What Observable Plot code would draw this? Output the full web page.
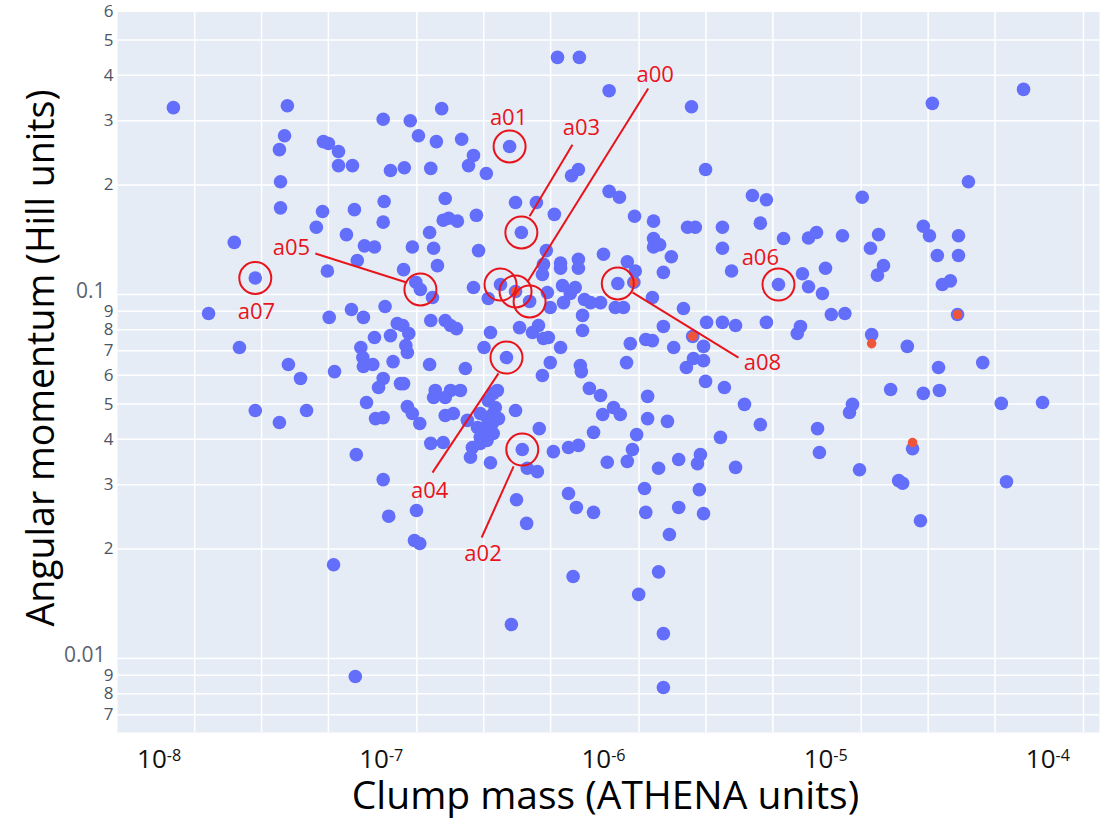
<!DOCTYPE html>
<html>
<head>
<meta charset="utf-8">
<script src="https://cdn.jsdelivr.net/npm/d3@7"></script>
<script src="https://cdn.jsdelivr.net/npm/@observablehq/plot@0.6"></script>
<style>
  html, body { margin: 0; padding: 0; background: #fff; }
</style>
</head>
<body>
<div id="chart"></div>
<script>
// Clumps: mass (ATHENA units) and angular momentum (Hill units)
const clumpMass = [
  1.16e-8,3.78e-8,3.67e-8,3.48e-8,3.52e-8,3.52e-8,2.18e-8,5.44e-8,5.10e-8,5.49e-8,
  5.78e-8,6.42e-8,6.42e-8,7.42e-8,1.02e-7,1.10e-7,1.27e-7,7.57e-8,1.03e-7,1.02e-7,
  6.97e-8,8.40e-8,9.32e-8,7.80e-8,5.72e-8,2.71e-8,1.67e-8,5.83e-8,7.34e-8,8.31e-8,
  1.04e-7,1.18e-7,1.10e-7,9.32e-8,2.30e-8,3.82e-8,4.33e-8,6.16e-8,8.09e-8,8.26e-8,
  8.31e-8,9.16e-8,1.13e-7,1.02e-7,9.72e-8,1.22e-7,2.71e-8,3.48e-8,4.61e-8,8.58e-8,
  9.42e-8,7.72e-8,1.02e-7,1.08e-7,6.10e-8,7.64e-8,6.21e-7,7.79e-7,1.06e-6,2.49e-6,
  1.87e-7,1.35e-7,1.47e-7,1.77e-7,2.30e-7,2.60e-7,2.47e-7,2.97e-7,3.78e-7,1.67e-7,
  7.18e-7,7.71e-7,2.88e-6,1.94e-7,4.02e-7,4.99e-7,2.68e-7,6.01e-7,1.06e-6,1.18e-6,
  4.68e-6,5.41e-6,1.90e-7,2.01e-7,2.20e-7,1.65e-7,4.27e-7,1.38e-6,1.68e-6,2.39e-6,
  2.59e-6,3.43e-6,5.08e-6,1.38e-7,1.72e-7,2.74e-7,5.53e-7,5.37e-7,6.41e-7,6.41e-7,
  7.71e-7,7.71e-7,1.00e-6,1.28e-6,1.39e-6,1.68e-6,1.68e-6,1.79e-6,2.02e-6,1.86e-6,
  3.43e-6,3.77e-6,1.26e-7,1.79e-7,5.31e-7,7.77e-5,3.02e-5,4.39e-5,1.46e-5,6.46e-6,
  8.37e-6,9.09e-6,1.19e-5,1.73e-5,2.75e-5,2.93e-5,3.96e-5,1.59e-5,1.82e-5,1.71e-5,
  3.18e-5,3.96e-5,7.86e-6,9.98e-6,3.35e-5,3.64e-5,6.13e-6,1.43e-7,1.50e-7,1.70e-7,
  2.60e-7,3.03e-7,3.44e-7,4.02e-7,4.65e-7,5.59e-7,5.76e-7,6.54e-7,7.46e-7,7.09e-7,
  6.61e-7,8.21e-7,8.74e-7,9.70e-7,8.05e-7,8.05e-7,1.16e-6,1.37e-6,1.13e-6,1.23e-6,
  1.66e-6,2.29e-6,1.67e-7,1.94e-7,2.05e-7,2.18e-7,3.10e-7,4.19e-7,4.79e-7,5.10e-7,
  5.37e-7,5.65e-7,6.41e-7,2.90e-7,3.66e-7,5.76e-7,5.31e-7,7.87e-7,7.95e-7,1.32e-6,
  1.55e-6,1.66e-6,1.86e-6,2.07e-6,2.52e-6,2.82e-6,2.91e-6,3.43e-6,3.93e-6,5.41e-6,
  1.27e-6,2.36e-6,2.54e-6,2.82e-6,2.88e-6,3.50e-6,4.31e-6,5.08e-6,1.25e-7,1.33e-7,
  1.29e-7,1.31e-7,1.65e-7,2.39e-7,1.26e-7,1.75e-7,1.72e-7,2.05e-7,2.27e-7,1.94e-7,
  3.19e-7,3.33e-7,3.03e-7,4.02e-7,1.31e-7,1.38e-7,1.49e-7,1.02e-7,1.94e-7,2.11e-7,
  2.44e-7,2.79e-7,2.99e-7,3.19e-7,3.26e-7,3.37e-7,2.71e-7,2.90e-7,3.16e-7,2.79e-7,
  2.99e-7,3.19e-7,2.57e-7,2.52e-7,2.79e-7,3.10e-7,1.67e-7,1.90e-7,4.31e-7,4.54e-7,
  5.04e-7,5.14e-7,5.95e-7,6.96e-7,7.71e-7,9.02e-7,8.64e-7,9.70e-7,9.92e-7,1.11e-6,
  1.19e-6,1.41e-6,1.35e-6,1.28e-6,1.04e-6,1.58e-6,1.58e-6,1.94e-6,1.77e-6,2.18e-6,
  2.73e-6,2.65e-6,3.36e-6,3.93e-6,1.44e-7,4.06e-7,4.51e-7,6.96e-7,7.55e-7,9.02e-7,
  1.53e-6,1.55e-6,1.98e-6,2.18e-6,2.70e-6,2.82e-6,1.41e-7,1.49e-7,3.85e-7,7.30e-7,
  1.77e-6,1.44e-6,1.86e-6,1.86e-6,8.37e-6,9.67e-6,7.70e-6,7.45e-6,1.06e-5,1.22e-5,
  3.92e-5,1.61e-5,2.33e-5,3.22e-5,5.09e-5,1.96e-5,2.75e-5,3.25e-5,1.32e-5,1.28e-5,
  6.17e-5,9.46e-5,9.19e-6,2.46e-5,9.37e-6,1.42e-5,2.13e-5,2.22e-5,6.51e-5,2.67e-5
];
const clumpMomentum = [
  0.326,0.330,0.273,0.250,0.204,0.173,0.139,0.169,0.153,0.263,
  0.260,0.247,0.226,0.226,0.303,0.219,0.223,0.171,0.180,0.158,
  0.146,0.136,0.135,0.124,0.116,0.111,0.0887,0.0865,0.0909,0.0865,
  0.0927,0.0832,0.0771,0.0762,0.0715,0.0642,0.0588,0.0614,0.0715,0.0671,
  0.0634,0.0642,0.0654,0.0588,0.0555,0.0569,0.0480,0.0445,0.0480,0.0505,
  0.0456,0.0363,0.0310,0.0246,0.0181,0.00892,0.448,0.448,0.363,0.328,
  0.324,0.300,0.273,0.263,0.267,0.241,0.226,0.215,0.255,0.222,
  0.212,0.2205,0.2205,0.1835,0.179,0.179,0.165,0.166,0.192,0.185,
  0.187,0.182,0.160,0.162,0.159,0.148,0.148,0.164,0.159,0.153,
  0.153,0.153,0.157,0.135,0.134,0.132,0.132,0.121,0.122,0.118,
  0.125,0.118,0.129,0.123,0.116,0.135,0.1425,0.137,0.127,0.115,
  0.134,0.116,0.117,0.120,0.1135,0.366,0.335,0.204,0.185,0.1425,
  0.143,0.148,0.145,0.146,0.154,0.145,0.145,0.134,0.120,0.113,
  0.128,0.128,0.114,0.118,0.1065,0.109,0.1065,0.108,0.1032,0.0981,
  0.1045,0.0975,0.1065,0.1019,0.0957,0.1013,0.0921,0.1058,0.1045,0.1006,
  0.0950,0.0969,0.0950,0.0950,0.0876,0.0796,0.1072,0.108,0.0921,0.0921,
  0.0981,0.0915,0.0848,0.0848,0.0822,0.0806,0.0786,0.0811,0.0786,0.0822,
  0.0757,0.0762,0.0715,0.0715,0.0671,0.0650,0.0599,0.0638,0.0614,0.0733,
  0.0752,0.0747,0.0817,0.0715,0.0767,0.0720,0.0838,0.0838,0.0822,0.0838,
  0.0650,0.0630,0.0667,0.0658,0.0577,0.0555,0.0499,0.0439,0.0822,0.0781,
  0.0724,0.0693,0.0642,0.0626,0.0569,0.0545,0.0521,0.0545,0.0545,0.0521,
  0.0535,0.0545,0.0511,0.0480,0.0492,0.0471,0.0442,0.0459,0.0465,0.0471,
  0.0451,0.0471,0.0459,0.0471,0.0489,0.0456,0.0431,0.0428,0.0442,0.0405,
  0.0397,0.0415,0.0380,0.0357,0.0390,0.0345,0.0390,0.0392,0.0375,0.0333,
  0.0326,0.0428,0.0370,0.0380,0.0385,0.0418,0.0552,0.0528,0.0468,0.0489,
  0.0468,0.0412,0.0375,0.0348,0.0346,0.0525,0.0456,0.0448,0.0333,0.0352,
  0.0363,0.0343,0.0405,0.0335,0.0255,0.0273,0.0235,0.0284,0.0260,0.0252,
  0.0293,0.0252,0.0219,0.0260,0.0291,0.0250,0.0211,0.0207,0.0124,0.0168,
  0.0173,0.0150,0.0117,0.00832,0.105,0.1006,0.0817,0.0781,0.0881,0.0887,
  0.0881,0.0776,0.0720,0.0630,0.0650,0.0548,0.0535,0.0545,0.0499,0.0474,
  0.0502,0.0505,0.0428,0.0377,0.0368,0.0330,0.0308,0.0303,0.0306,0.0239
];

// Second set of clumps, drawn smaller on top
const flaggedMass = [4.02e-7, 1.37e-6, 2.52e-6, 3.92e-5, 1.61e-5, 2.46e-5];
const flaggedMomentum = [0.1019, 0.108, 0.0767, 0.0881, 0.0733, 0.0392];

// Highlighted clumps (rings)
const ringMass = [3.44e-7, 4.02e-7, 4.65e-7, 3.78e-7, 4.31e-7, 4.27e-7, 3.66e-7, 1.50e-7, 6.13e-6, 2.71e-8, 1.16e-6];
const ringMomentum = [0.1065, 0.1019, 0.0957, 0.255, 0.0375, 0.148, 0.0671, 0.1032, 0.1065, 0.111, 0.1072];

// Clump names and where they are written
const clumpNames = ["a00", "a01", "a02", "a03", "a04", "a05", "a06", "a07", "a08"];
const nameMass = [1.71e-6, 3.74e-7, 2.87e-7, 7.95e-7, 1.65e-7, 3.94e-8, 5.08e-6, 2.74e-8, 5.19e-6];
const nameMomentum = [0.402, 0.306, 0.0194, 0.286, 0.0289, 0.134, 0.1256, 0.0898, 0.0650];

// Leader lines from names to rings (a00, a02, a03, a04, a05, a08)
const leaderFromMass = [1.59e-6, 3.94e-7, 7.25e-7, 3.37e-7, 5.05e-8, 1.35e-6];
const leaderFromMomentum = [0.368, 0.0337, 0.258, 0.0607, 0.1296, 0.1013];
const leaderToMass = [4.54e-7, 2.83e-7, 4.65e-7, 1.70e-7, 1.29e-7, 4.05e-6];
const leaderToMomentum = [0.108, 0.0215, 0.164, 0.0324, 0.108, 0.0671];

// Axis ticks
const massTicks = [1e-8, 1e-7, 1e-6, 1e-5, 1e-4];
const momentumMinorTicks = [0.007, 0.008, 0.009, 0.02, 0.03, 0.04, 0.05, 0.06, 0.07, 0.08, 0.09, 0.2, 0.3, 0.4, 0.5, 0.6];
const momentumMajorTicks = [0.01, 0.1];

// Vertical grid follows the simulation's native mass unit (1-2-5 per decade)
const athenaPerCodeMass = 2.892e-7;
const codeGridMantissas = [1, 2, 5];
const codeGridDecades = [-2, -1, 0, 1, 2];

const massDomain = [6.50e-9, 1.707e-4];
const momentumDomain = [0.006261, 0.599];

const massGrid = codeGridDecades
  .flatMap(k => codeGridMantissas.map(m => m * 10 ** k * athenaPerCodeMass))
  .filter(v => v >= massDomain[0] && v <= massDomain[1]);
const momentumGrid = [...momentumMinorTicks, ...momentumMajorTicks];

const digit = d => String(Math.round(d / 10 ** Math.floor(Math.log10(d) + 1e-9)));
const red = "#e8141c";

const chart = Plot.plot({
  width: 1101,
  height: 824,
  marginLeft: 117,
  marginRight: 2,
  marginTop: 11,
  marginBottom: 92,
  style: { fontFamily: "'Open Sans', sans-serif", background: "#fff" },
  x: { type: "log", domain: massDomain },
  y: { type: "log", domain: momentumDomain },
  marks: [
    Plot.frame({ fill: "#e5ecf6", stroke: "none" }),
    Plot.ruleX(massGrid, { stroke: "#fff", strokeWidth: 1.5 }),
    Plot.ruleY(momentumGrid, { stroke: "#fff", strokeWidth: 1.5 }),
    Plot.dot(clumpMass, { x: clumpMass, y: clumpMomentum, r: 6.8, fill: "#636efa" }),
    Plot.dot(flaggedMass, { x: flaggedMass, y: flaggedMomentum, r: 4.8, fill: "#ef553b" }),
    Plot.dot(ringMass, { x: ringMass, y: ringMomentum, r: 16, fill: "none", stroke: red, strokeWidth: 2 }),
    Plot.link(leaderFromMass, { x1: leaderFromMass, y1: leaderFromMomentum, x2: leaderToMass, y2: leaderToMomentum, stroke: red, strokeWidth: 2 }),
    Plot.text(clumpNames, { x: nameMass, y: nameMomentum, text: d => d, fill: red, fontSize: 22 }),
    Plot.axisX(massTicks, {
      tickSize: 0, tickPadding: 17, fontSize: 26, fill: "#111", color: "#111",
      tickFormat: d => String(Math.round(Math.log10(d))), label: null
    }),
    Plot.axisY(momentumMinorTicks, {
      tickSize: 0, tickPadding: 4, fontSize: 17, fill: "#4c5566", color: "#4c5566",
      tickFormat: digit, label: null
    }),
    Plot.axisY(momentumMajorTicks, {
      tickSize: 0, tickPadding: 12, fontSize: 21, dy: -3, fill: "#5a6272", color: "#5a6272",
      tickFormat: d => String(d), label: null
    }),
    Plot.text(["Clump mass (ATHENA units)"], {
      frameAnchor: "bottom", text: d => d, dy: 76, dx: -3, fontSize: 39, fill: "#000", textAnchor: "middle"
    }),
    Plot.text(["Angular momentum (Hill units)"], {
      frameAnchor: "left", text: d => d, rotate: -90, dx: -76, dy: -14, fontSize: 37.5, fill: "#000", textAnchor: "middle"
    })
  ]
});

// Mass tick labels as powers of ten with a raised exponent
chart.querySelectorAll('g[aria-label="x-axis tick label"] text').forEach(t => {
  const exponent = t.textContent;
  t.textContent = "10";
  t.setAttribute("font-size", "26");
  const sup = document.createElementNS("http://www.w3.org/2000/svg", "tspan");
  sup.setAttribute("dy", "-0.45em");
  sup.setAttribute("font-size", "0.62em");
  sup.textContent = exponent;
  t.appendChild(sup);
});

document.getElementById("chart").appendChild(chart);
</script>
</body>
</html>
